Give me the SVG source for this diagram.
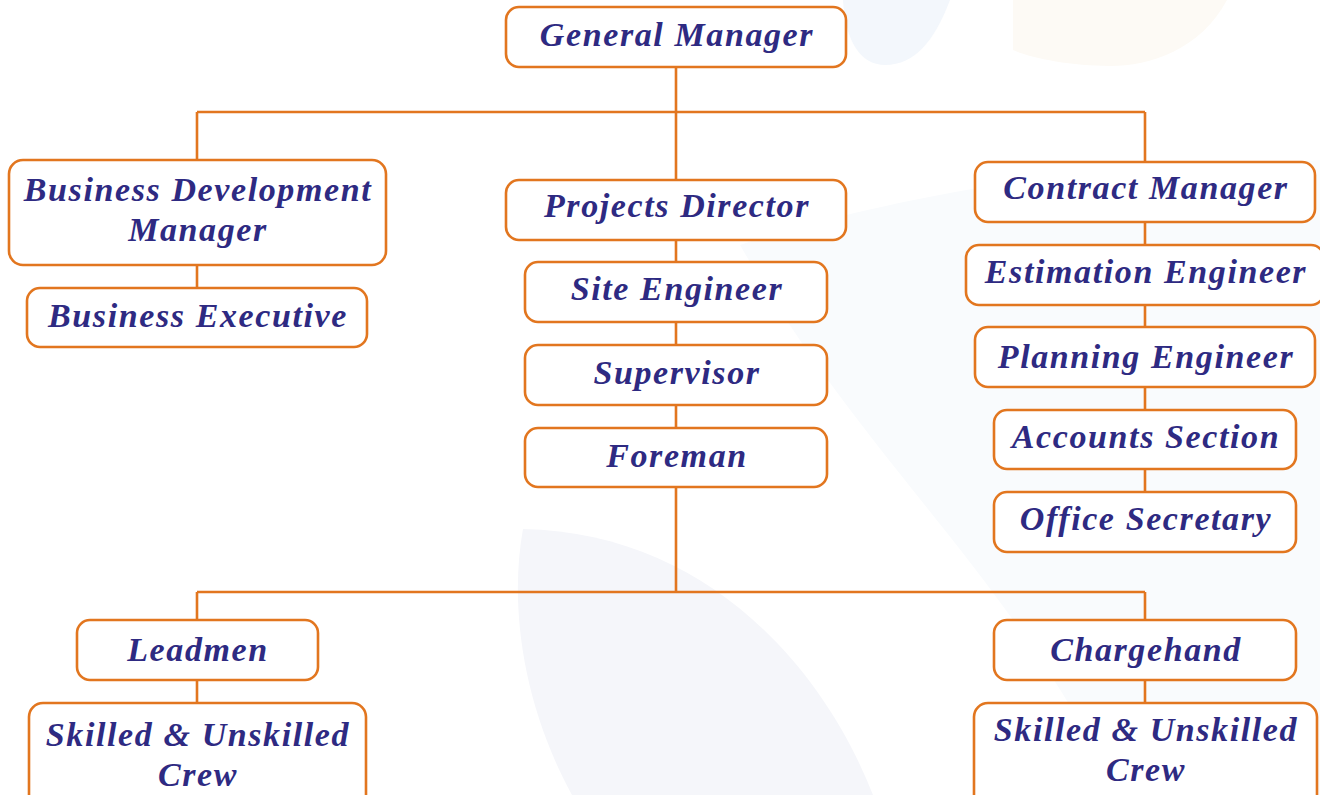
<svg xmlns="http://www.w3.org/2000/svg" width="1320" height="795" viewBox="0 0 1320 795">
<style>
.box{fill:#ffffff;stroke:#e2761f;stroke-width:2.6}
.ln{stroke:#e2761f;stroke-width:2.6;fill:none}
text{font-family:"Liberation Serif","DejaVu Serif",serif;font-weight:bold;font-style:italic;font-size:34px;fill:#2e2a82;text-anchor:middle;letter-spacing:1.6px}
</style>
<rect width="1320" height="795" fill="#ffffff"/>
<g id="background">
<path d="M843,0 L950,0 C935,40 915,65 885,65 C860,65 845,40 843,0 Z" fill="#f3f7fc"/>
<path d="M1013,0 L1227,0 C1200,50 1150,66 1110,66 C1070,66 1030,58 1013,50 Z" fill="#fdfaf5"/>
<path d="M740,245 C830,215 950,190 1060,175 L1320,160 L1320,795 L1120,795 C1000,560 870,470 740,245 Z" fill="#f9fbfd"/>
<path d="M523,529 C700,532 820,660 873,795 L572,795 C520,700 510,600 523,529 Z" fill="#f5f6fa"/>
</g>
<g id="connectors">
<path class="ln" d="M676,67 V180 M197,112 H1145 M197,112 V160 M1145,112 V162"/>
<path class="ln" d="M197,265 V288"/>
<path class="ln" d="M676,240 V262 M676,322 V345 M676,405 V428 M676,487 V592"/>
<path class="ln" d="M1145,222 V245 M1145,305 V327 M1145,387 V410 M1145,469 V492"/>
<path class="ln" d="M197,592 H1145 M197,592 V620 M1145,592 V620 M197,680 V703 M1145,680 V703"/>
</g>
<g id="general-manager"><rect class="box" x="506" y="7" width="340" height="60" rx="13"/><text x="677" y="46">General Manager</text></g>
<g id="business-development-manager"><rect class="box" x="9" y="160" width="377" height="105" rx="14"/><text x="198" y="201">Business Development</text><text x="198" y="241">Manager</text></g>
<g id="business-executive"><rect class="box" x="27" y="288" width="340" height="59" rx="13"/><text x="198" y="327">Business Executive</text></g>
<g id="projects-director"><rect class="box" x="506" y="180" width="340" height="60" rx="13"/><text x="677" y="217">Projects Director</text></g>
<g id="site-engineer"><rect class="box" x="525" y="262" width="302" height="60" rx="13"/><text x="677" y="300">Site Engineer</text></g>
<g id="supervisor"><rect class="box" x="525" y="345" width="302" height="60" rx="13"/><text x="677" y="384">Supervisor</text></g>
<g id="foreman"><rect class="box" x="525" y="428" width="302" height="59" rx="13"/><text x="677" y="467">Foreman</text></g>
<g id="contract-manager"><rect class="box" x="975" y="162" width="340" height="60" rx="13"/><text x="1146" y="199">Contract Manager</text></g>
<g id="estimation-engineer"><rect class="box" x="966" y="245" width="358" height="60" rx="13"/><text x="1146" y="283">Estimation Engineer</text></g>
<g id="planning-engineer"><rect class="box" x="975" y="327" width="340" height="60" rx="13"/><text x="1146" y="368">Planning Engineer</text></g>
<g id="accounts-section"><rect class="box" x="994" y="410" width="302" height="59" rx="13"/><text x="1146" y="448">Accounts Section</text></g>
<g id="office-secretary"><rect class="box" x="994" y="492" width="302" height="60" rx="13"/><text x="1146" y="530">Office Secretary</text></g>
<g id="leadmen"><rect class="box" x="77" y="620" width="241" height="60" rx="13"/><text x="198" y="661">Leadmen</text></g>
<g id="skilled-crew-left"><rect class="box" x="29" y="703" width="337" height="110" rx="14"/><text x="198" y="746">Skilled &amp; Unskilled</text><text x="198" y="786">Crew</text></g>
<g id="chargehand"><rect class="box" x="994" y="620" width="302" height="60" rx="13"/><text x="1146" y="661">Chargehand</text></g>
<g id="skilled-crew-right"><rect class="box" x="974" y="703" width="343" height="110" rx="14"/><text x="1146" y="741">Skilled &amp; Unskilled</text><text x="1146" y="781">Crew</text></g>
</svg>
